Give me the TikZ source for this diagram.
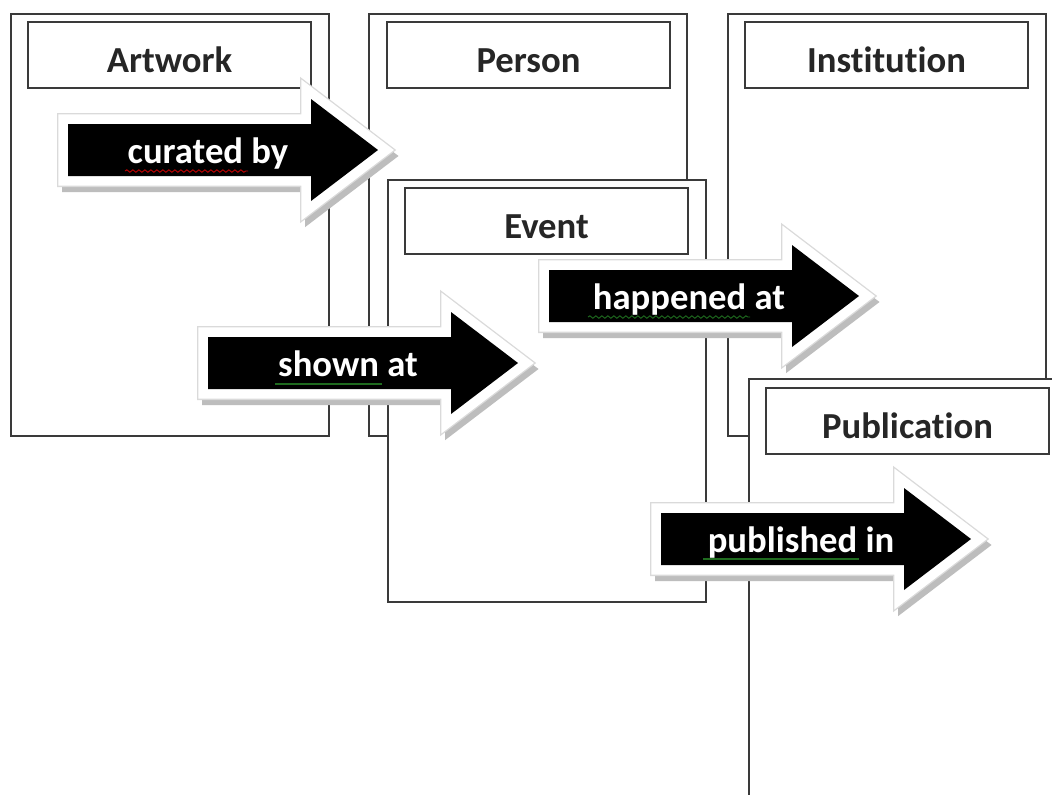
\documentclass[tikz,border=0pt]{standalone}
\usepackage{fontspec}
\setmainfont{Carlito}[Ligatures={NoCommon}]
\usetikzlibrary{decorations.pathmorphing}
\definecolor{cardline}{HTML}{3A3A3A}
\definecolor{shadowgray}{HTML}{BDBDBD}
\definecolor{rimgray}{HTML}{DADADA}
\definecolor{spellred}{HTML}{C00000}
\definecolor{spellgreen}{HTML}{1F6B1F}
\def\arrowshape{(0,-26) -- (243,-26) -- (243,-51) -- (310,0) -- (243,51) -- (243,26) -- (0,26) -- cycle}
\begin{document}
\begin{tikzpicture}[x=0.75pt,y=-0.75pt,
  card/.style={draw=cardline, line width=1.5pt, fill=white, rectangle, anchor=north west,
    inner sep=0pt, minimum width=238.5pt, minimum height=316.5pt},
  titlebox/.style={draw=cardline, line width=1.5pt, fill=white, rectangle, inner sep=0pt,
    minimum width=212.25pt, minimum height=49.5pt, text height=25.5pt, text depth=0pt,
    font=\bfseries\fontsize{27.5}{33}\selectfont, text=black!85},
  arrowtext/.style={anchor=base, text=white, inner sep=0pt, font=\bfseries\fontsize{27.5}{33}\selectfont},
  wavy/.style={decorate, decoration={snake, amplitude=0.9, segment length=4.5}, line width=0.7pt},
  bigarrow/.pic={
    \draw[shadowgray, fill=shadowgray, line width=15pt, line join=miter, shift={(4,6)}] \arrowshape;
    \draw[rimgray, fill=rimgray, line width=16.5pt, line join=miter] \arrowshape;
    \draw[white, fill=white, line width=14.5pt, line join=miter] \arrowshape;
    \fill[black] \arrowshape;
    \node[arrowtext] (-label) at (140,13) {#1};
  }]
\useasboundingbox (0,0) rectangle (1052,794);
\clip (0,0) rectangle (1052,794);
\fill[white] (0,0) rectangle (1052,794);

% cards
\node[card] (artwork) at (10,13) {};
\node[titlebox] (artworkT) at (169.5,55) {Artwork};
\node[card] (person) at (368,13) {};
\node[titlebox] (personT) at (528.5,55) {Person};
\node[card] (institution) at (727,13) {};
\node[titlebox] (institutionT) at (886.5,55) {Institution};
\node[card] (event) at (387,179) {};
\node[titlebox] (eventT) at (546.5,221) {Event};
\node[card] (publication) at (748,378) {};
\node[titlebox] (publicationT) at (907.5,421) {Publication};

% arrows
\pic (curated) at (68,150) {bigarrow={curated by}};
\pic (shown) at (208,363) {bigarrow={shown at}};
\pic (happened) at (549,296) {bigarrow={happened at}};
\pic (published) at (661,539) {bigarrow={published in}};

% spell-check underlines
\draw[spellred, wavy] (125,171) -- (248,171);
\draw[spellgreen, line width=0.9pt] (275,384) -- (382,384);
\draw[spellgreen, wavy] (588,317) -- (750,317);
\draw[spellgreen, line width=0.9pt] (703,559) -- (859,559);
\end{tikzpicture}
\end{document}
